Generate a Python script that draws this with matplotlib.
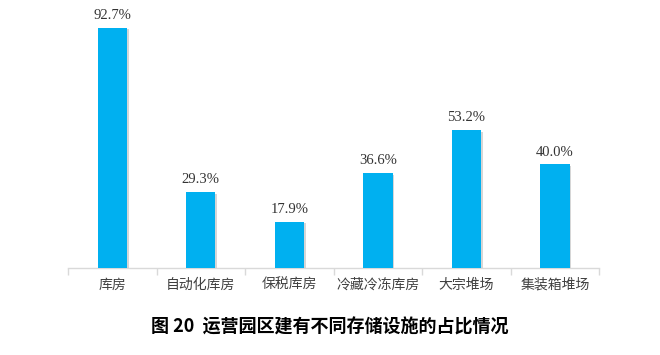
import matplotlib
matplotlib.use("Agg")
import matplotlib.pyplot as plt
import matplotlib.patheffects as pe
import numpy as np

plt.rcParams['font.family'] = ['Noto Sans CJK SC', 'DejaVu Sans']

categories = ['库房', '自动化库房', '保税库房', '冷藏冷冻库房', '大宗堆场', '集装箱堆场']
values = [92.7, 29.3, 17.9, 36.6, 53.2, 40.0]
labels = ['92.7%', '29.3%', '17.9%', '36.6%', '53.2%', '40.0%']

fig = plt.figure(figsize=(6.6, 3.55), dpi=100)
ax = fig.add_axes([0.103, 0.245, 0.805, 0.73])

x = np.arange(len(categories))
bars = ax.bar(x, values, width=0.33, color='#00B0F0', zorder=3)
for b in bars:
    b.set_path_effects([pe.SimplePatchShadow(offset=(1.2, -1.2), shadow_rgbFace='#bbbbbb', alpha=0.6), pe.Normal()])

for xi, v, t in zip(x, values, labels):
    ax.text(xi, v + 2.2, t, ha='center', va='bottom', fontsize=10.5,
            family=['Liberation Serif', 'DejaVu Serif'], color='#333333')

ax.set_xlim(-0.5, len(categories) - 0.5)
ax.set_ylim(0, 100)
ax.set_yticks([])
for s in ['top', 'right', 'left']:
    ax.spines[s].set_visible(False)
ax.spines['bottom'].set_color('#d9d9d9')
ax.spines['bottom'].set_linewidth(1.0)

# boundary ticks (major) and category labels (minor)
ax.set_xticks(np.arange(len(categories) + 1) - 0.5, minor=False)
ax.set_xticklabels([])
ax.tick_params(axis='x', length=5, color='#d9d9d9', width=1.0)
ax.set_xticks(x, minor=True)
ax.set_xticklabels(categories, minor=True, fontsize=10, color='#404040')
ax.tick_params(axis='x', which='minor', length=0, pad=7)

fig.text(0.5, 0.078, '图 20  运营园区建有不同存储设施的占比情况', ha='center', va='center',
         fontsize=13, fontweight='bold', color='black')

fig.savefig('out.png', dpi=100)
